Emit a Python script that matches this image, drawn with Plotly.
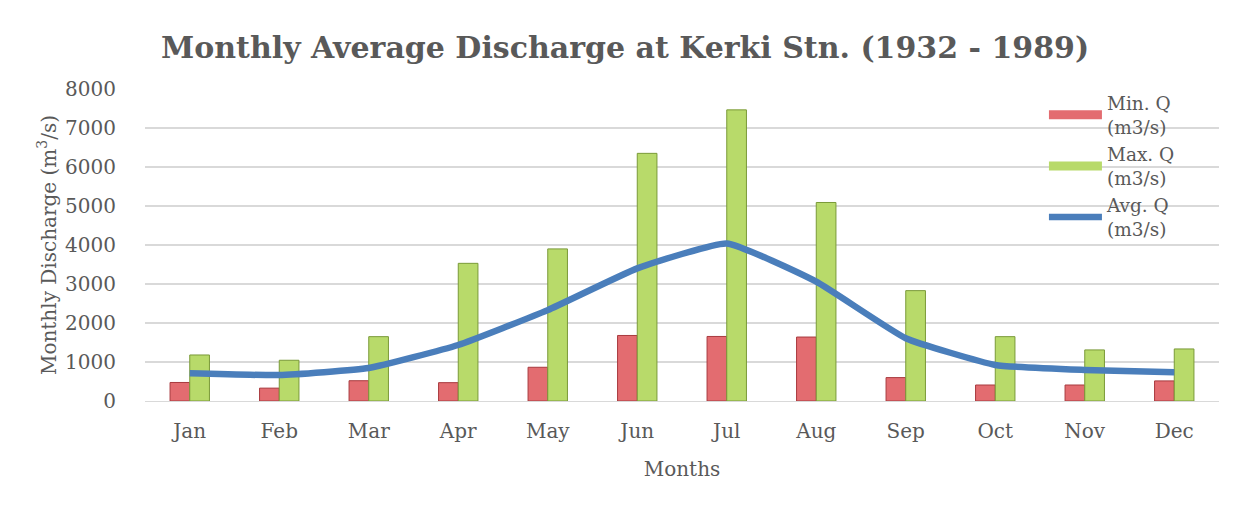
import plotly.graph_objects as go

months = ["Jan", "Feb", "Mar", "Apr", "May", "Jun", "Jul", "Aug", "Sep", "Oct", "Nov", "Dec"]
min_q = [475, 330, 520, 470, 865, 1680, 1655, 1640, 600, 410, 410, 515]
max_q = [1180, 1045, 1650, 3530, 3900, 6350, 7465, 5090, 2830, 1650, 1310, 1335]
avg_q = [710, 665, 845, 1435, 2330, 3400, 4040, 3060, 1610, 925, 795, 735]
y_ticks = [0, 1000, 2000, 3000, 4000, 5000, 6000, 7000, 8000]

FONT = "DejaVu Serif"
GREY = "#595959"
RED = "#E36C70"
RED_EDGE = "#A83A3E"
GREEN = "#B8DA6A"
GREEN_EDGE = "#7A9A38"
BLUE = "#4A7EBB"

fig = go.Figure()
fig.add_trace(go.Bar(x=months, y=min_q, name="Min. Q<br>(m3/s)", showlegend=False,
                     marker=dict(color=RED, line=dict(color=RED_EDGE, width=1))))
fig.add_trace(go.Bar(x=months, y=max_q, name="Max. Q<br>(m3/s)", showlegend=False,
                     marker=dict(color=GREEN, line=dict(color=GREEN_EDGE, width=1))))
fig.add_trace(go.Scatter(x=months, y=avg_q, mode="lines", name="Avg. Q<br>(m3/s)", showlegend=False,
                         line=dict(color=BLUE, width=6.5, shape="spline", smoothing=0.4)))
# legend entries (drawn as wide swatches like the original)
fig.add_trace(go.Scatter(x=[None], y=[None], mode="lines", name="Min. Q<br>(m3/s)",
                         legendgroup="a", line=dict(color=RED, width=9)))
fig.add_trace(go.Scatter(x=[None], y=[None], mode="lines", name="Max. Q<br>(m3/s)",
                         legendgroup="b", line=dict(color=GREEN, width=9)))
fig.add_trace(go.Scatter(x=[None], y=[None], mode="lines", name="Avg. Q<br>(m3/s)",
                         legendgroup="c", line=dict(color=BLUE, width=6.5)))

fig.update_layout(
    width=1231, height=491,
    margin=dict(l=137, r=20, t=81, b=98),
    paper_bgcolor="white", plot_bgcolor="white",
    font=dict(family=FONT, color=GREY, size=20),
    barmode="group", bargap=0.56, bargroupgap=0,
    title=dict(text="<b>Monthly Average Discharge at Kerki Stn. (1932 - 1989)</b>",
               x=0.5013, xanchor="center", y=0.919, yanchor="middle",
               font=dict(family=FONT, size=30, color=GREY)),
    legend=dict(x=0.837, xanchor="left", y=1.015, yanchor="top",
                bgcolor="rgba(0,0,0,0)", font=dict(size=18.5, color=GREY),
                itemwidth=53, tracegroupgap=7, traceorder="normal"),
    showlegend=True,
)
fig.update_xaxes(title=dict(text="Months", font=dict(size=20, color=GREY), standoff=19),
                 showgrid=False, showline=True, linecolor="#D9D9D9", linewidth=1,
                 ticks="", ticklabelstandoff=12, tickfont=dict(size=20, color=GREY))
fig.update_yaxes(title=dict(text="Monthly Discharge (m<sup>3</sup>/s)", font=dict(size=20, color=GREY), standoff=3),
                 range=[0, 8000], tickvals=y_ticks, ticktext=[str(v) for v in y_ticks],
                 showgrid=True, gridcolor="#D9D9D9", gridwidth=1.5, zeroline=False,
                 showline=False, ticks="", ticklabelstandoff=28, tickfont=dict(size=20, color=GREY))

fig.write_html("out.html")
